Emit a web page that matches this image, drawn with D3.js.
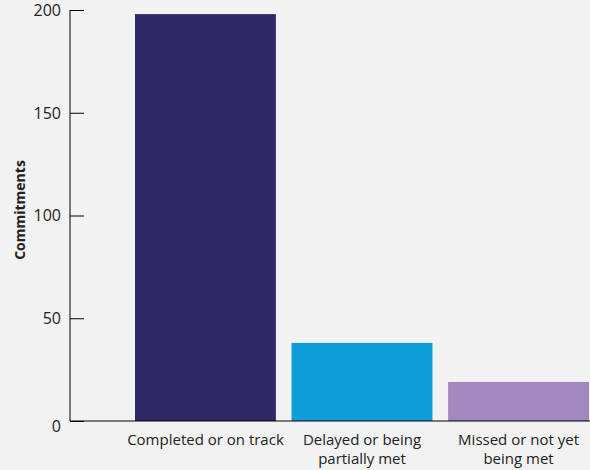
<!DOCTYPE html>
<html lang="en">
<head>
    <meta charset="utf-8">
    <title>Commitments</title>
    <script src="https://d3js.org/d3.v7.min.js"></script>
    <style>
        body { margin: 0; background: #f2f2f2; }
        text { font-family: "Open Sans", "Noto Sans", sans-serif; fill: #222; }
    </style>
</head>
<body>
    <div id="chart"></div>
    <script>
        // Data
        const categories = ["Completed or on track", "Delayed or being partially met", "Missed or not yet being met"];
        const labelLines = [["Completed or on track"], ["Delayed or being", "partially met"], ["Missed or not yet", "being met"]];
        const values = [198, 38, 19];
        const colors = ["#2e2866", "#0e9dd7", "#a388be"];
        const yTicks = [0, 50, 100, 150, 200];

        const width = 590, height = 470;

        const svg = d3.select("#chart")
            .append("svg")
            .attr("width", width)
            .attr("height", height);

        svg.append("rect")
            .attr("width", width)
            .attr("height", height)
            .attr("fill", "#f2f2f2");

        // Scales
        const x = d3.scaleBand()
            .domain(categories)
            .range([135, 589])
            .paddingInner(0.1)
            .paddingOuter(0);

        const y = d3.scaleLinear()
            .domain([0, 200])
            .range([421, 10]);

        // Bars
        svg.selectAll("rect.bar")
            .data(values)
            .enter()
            .append("rect")
            .attr("class", "bar")
            .attr("x", (d, i) => x(categories[i]))
            .attr("y", d => y(d))
            .attr("width", x.bandwidth())
            .attr("height", d => y(0) - y(d))
            .attr("fill", (d, i) => colors[i]);

        // Y axis
        const yAxis = svg.append("g")
            .attr("transform", "translate(70,0)")
            .call(d3.axisRight(y).tickValues(yTicks).tickSize(14).tickFormat(""));
        yAxis.select(".domain").attr("d", `M0,${y(200)}V${y(0)}`).attr("stroke", "#000");
        yAxis.selectAll(".tick line").attr("stroke", "#000");

        svg.selectAll("text.ytick")
            .data(yTicks)
            .enter()
            .append("text")
            .attr("class", "ytick")
            .attr("x", 61)
            .attr("y", d => y(d) + (d === 0 ? 5 : 0))
            .attr("dy", "0.36em")
            .attr("text-anchor", "end")
            .style("font-size", "16px")
            .text(d => d);

        // Baseline
        svg.append("line")
            .attr("x1", 70)
            .attr("x2", width)
            .attr("y1", y(0))
            .attr("y2", y(0))
            .attr("stroke", "#000")
            .attr("stroke-width", 1.2);

        // Category labels
        const labels = svg.selectAll("text.cat")
            .data(labelLines)
            .enter()
            .append("text")
            .attr("class", "cat")
            .attr("text-anchor", "middle")
            .style("font-size", "15px")
            .attr("transform", (d, i) => `translate(${x(categories[i]) + x.bandwidth() / 2},445)`);

        labels.selectAll("tspan")
            .data(d => d)
            .enter()
            .append("tspan")
            .attr("x", 0)
            .attr("y", (d, i) => i * 19)
            .text(d => d);

        // Y label
        svg.append("text")
            .attr("transform", "translate(25,210) rotate(-90)")
            .attr("text-anchor", "middle")
            .style("font-size", "14px")
            .style("font-weight", "bold")
            .text("Commitments");
    </script>
</body>
</html>
